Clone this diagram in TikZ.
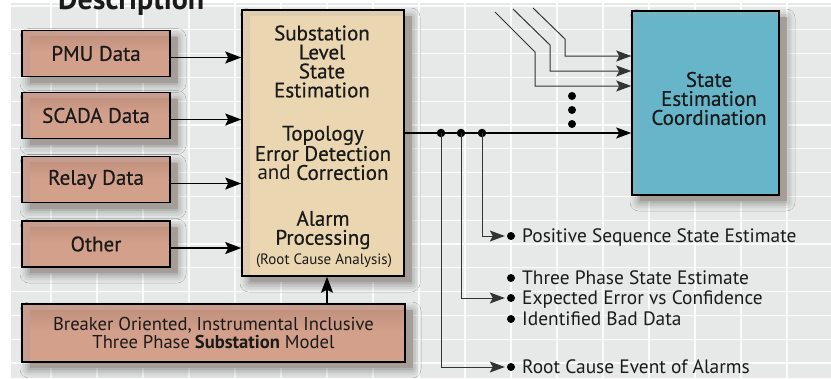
\documentclass[tikz,border=0pt]{standalone}
\usepackage{fontspec}
\setmainfont{PT Sans}
\newfontfamily\medfont{PT Sans}[FakeBold=0.5]
\usetikzlibrary{arrows.meta,shadows.blur,calc}

\definecolor{bggray}{HTML}{E7E9E9}
\definecolor{offGray}{HTML}{A69D98}
\definecolor{salBase}{HTML}{C79A8B}
\definecolor{salDark}{HTML}{A47868}
\definecolor{salLight}{HTML}{D5A28C}
\definecolor{tanBase}{HTML}{E0CDAE}
\definecolor{tanDark}{HTML}{C8B79D}
\definecolor{tanLight}{HTML}{ECD7B1}
\definecolor{bluBase}{HTML}{6DB3C4}
\definecolor{bluDark}{HTML}{4E8896}
\definecolor{bluLight}{HTML}{66B6CA}
\definecolor{ink}{HTML}{1A1A1A}
\definecolor{wire}{HTML}{333333}

\pgfdeclareverticalshading{salShade}{100bp}{color(0bp)=(salLight); color(50bp)=(salLight); color(100bp)=(salDark)}
\pgfdeclareverticalshading{tanShade}{100bp}{color(0bp)=(tanLight); color(75bp)=(tanLight); color(100bp)=(tanDark)}
\pgfdeclareverticalshading{bluShade}{100bp}{color(0bp)=(bluLight); color(80bp)=(bluLight); color(100bp)=(bluDark)}

\tikzset{
  panel/.style 2 args={
    draw=black, line width=1.5pt, fill=#1, fill opacity=0.93, text opacity=1,
    blur shadow={shadow xshift=7pt, shadow yshift=-7pt, shadow blur radius=9pt, shadow opacity=50},
    preaction={draw=none, fill=offGray, fill opacity=0.95, transform canvas={shift={(8pt,-6pt)}}},
    path picture={\shade[shading=#2, opacity=0.93]
      ([shift={(8pt,-6pt)}]path picture bounding box.north west) rectangle
      (path picture bounding box.south east);},
    inner sep=0pt, text=ink},
  srcbox/.style={panel={salBase}{salShade}, minimum width=148pt, minimum height=46pt,
    font=\medfont\fontsize{21pt}{21pt}\selectfont},
  maintext/.style={align=center, text=ink, inner sep=0pt,
    font=\medfont\fontsize{21pt}{19pt}\selectfont},
  outlbl/.style={anchor=west, inner sep=0pt, text=ink, text height=13pt, text depth=0pt,
    font=\fontsize{19.4pt}{19pt}\selectfont},
  bullet/.style={circle, fill=black, inner sep=0pt, minimum size=8pt},
  junction/.style={circle, fill=black, inner sep=0pt, minimum size=8.5pt},
  gridline/.style={white, line width=1.3pt, opacity=0.85},
  arr/.style={-{Stealth[length=16pt,width=12pt,inset=3pt]}, line width=1.6pt, black},
  thinarr/.style={-{Stealth[length=15pt,width=11pt,inset=3pt]}, line width=1pt, wire},
}

\begin{document}
\begin{tikzpicture}[x=1pt,y=-1pt]
\useasboundingbox (0,0) rectangle (831,378);

% backdrop with its white grid
\fill[white] (0,0) rectangle (831,378);
\fill[bggray] (11,3) rectangle (831,378);
\foreach \gx in {51,97,...,831} \draw[gridline] (\gx,3) -- (\gx,378);
\foreach \k in {0,...,15} \draw[gridline] (11,{6+23.8*\k}) -- (831,{6+23.8*\k});

% heading, cut by the top edge
\node[anchor=base west, inner sep=0pt, text=ink, font=\bfseries\fontsize{30pt}{30pt}\selectfont] (ttl) at (58,9) {Description};

% data sources
\node[srcbox] (pmu)   at (96,53.5) {PMU Data};
\node[srcbox] (scada) at (96,115.5) {SCADA Data};
\node[srcbox] (relay) at (96,179.5) {Relay Data};
\node[srcbox] (other) at (96,244) {Other};

% substation level processing
\node[panel={tanBase}{tanShade}, minimum width=162pt, minimum height=266pt] (main) at (323,143) {};
\node[maintext] (mt1) at (322,61.5) {Substation\\Level\\State\\Estimation};
\node[maintext] (mt2) at (323,153) {Topology\\Error Detection\\{\normalfont and} Correction};
\node[maintext] (mt3) at (323,230) {Alarm\\Processing};
\node[inner sep=0pt, text=ink, font=\fontsize{15pt}{15pt}\selectfont] (mt4) at (324,261) {(Root Cause Analysis)};

% substation model
\node[panel={salBase}{salShade}, minimum width=383pt, minimum height=58pt, align=center,
  font=\fontsize{18.6pt}{18pt}\selectfont] (model) at (213.5,333)
  {Breaker Oriented, Instrumental Inclusive\\Three Phase \textbf{Substation} Model};

% coordination
\node[panel={bluBase}{bluShade}, minimum width=147pt, minimum height=184pt] (sec) at (705.5,103) {};
\node[maintext] (sect) at (709,98.5) {State\\Estimation\\Coordination};

% inputs to the processing box
\foreach \b in {pmu,scada,relay,other}
  \draw[arr] ([yshift=-4pt]\b.east) -- ([yshift=-4pt]\b.east -| main.west);
\draw[arr] ([xshift=4pt]main.south |- model.north) -- ([xshift=4pt]main.south);

% output bus
\coordinate (j1) at (441,133);
\coordinate (j2) at (461,133);
\coordinate (j3) at (482,133);
\draw[thinarr, line width=1.3pt, black] (main.east |- j1) -- (j1 -| sec.west);
\foreach \j in {j1,j2,j3} \node[junction] at (\j) {};

% other substations feeding the coordinator
\coordinate (in1) at (495,12);
\coordinate (in2) at (513,9);
\coordinate (in3) at (533,8);
\draw[thinarr] (in1) -- (535,52) -- (535,86) -- (sec.west |- 0,86);
\draw[thinarr] (in2) -- (550,45) -- (550,71) -- (sec.west |- 0,71);
\draw[thinarr] (in3) -- (565,39) -- (565,56) -- (sec.west |- 0,56);
\foreach \vy in {96,110,124} \fill (572,\vy) circle (4);

% results
\node[bullet] (b1) at (511,236) {};
\node[bullet] (b2a) at (511,278) {};
\node[bullet] (b2) at (511,298) {};
\node[bullet] (b2b) at (511,319) {};
\node[bullet] (b3) at (511,367) {};
\node[outlbl] (o1) at (522,236) {Positive Sequence State Estimate};
\node[outlbl] (o2a) at (522,278) {Three Phase State Estimate};
\node[outlbl] (o2) at (522,298) {Expected Error vs Confidence};
\node[outlbl] (o2b) at (522,319) {Identified Bad Data};
\node[outlbl] (o3) at (522,367) {Root Cause Event of Alarms};

\draw[thinarr, shorten >=2pt] (j3) |- (b1);
\draw[thinarr, shorten >=2pt] (j2) |- (b2);
\draw[thinarr, shorten >=2pt] (j1) |- (b3);
\end{tikzpicture}
\end{document}
